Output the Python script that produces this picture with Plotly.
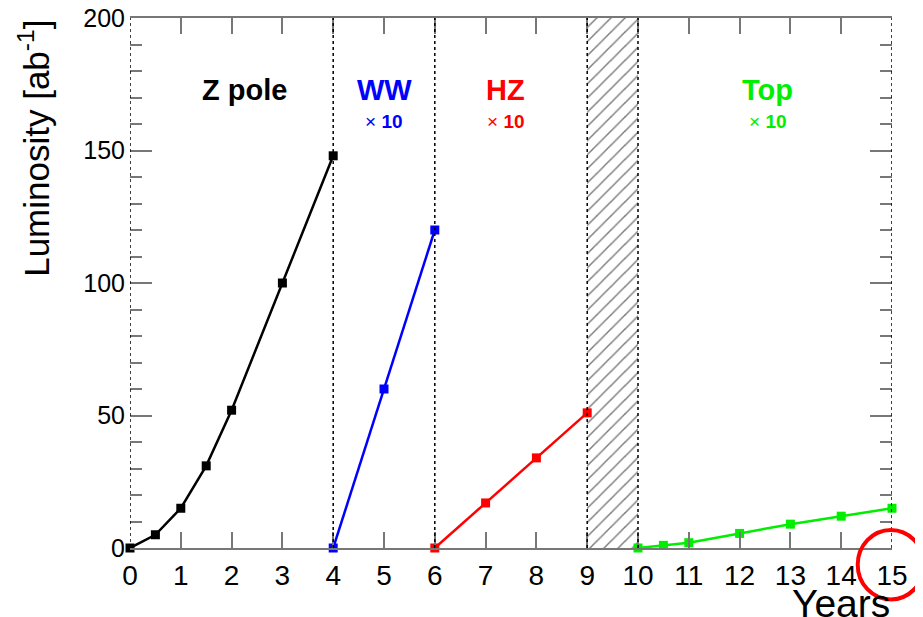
import plotly.graph_objects as go

# Data
z_x = [0, 0.5, 1, 1.5, 2, 3, 4]
z_y = [0, 5, 15, 31, 52, 100, 148]
ww_x = [4, 5, 6]
ww_y = [0, 60, 120]
hz_x = [6, 7, 8, 9]
hz_y = [0, 17, 34, 51]
top_x = [10, 10.5, 11, 12, 13, 14, 15]
top_y = [0, 1, 2, 5.5, 9, 12, 15]
boundaries = [0, 4, 6, 9, 10, 15]
shutdown = [9, 10]
x_ticks = list(range(0, 16))
y_ticks = [0, 50, 100, 150, 200]

labels = [
    ("Z pole", 2.25, "black", None),
    ("WW", 5.0, "#0000ff", "× <b>10</b>"),
    ("HZ", 7.4, "#ff0000", "× <b>10</b>"),
    ("Top", 12.55, "#00ee00", "× <b>10</b>"),
]

fig = go.Figure()

# hatched shutdown region
fig.add_trace(go.Bar(
    x=[(shutdown[0] + shutdown[1]) / 2], y=[200], width=[shutdown[1] - shutdown[0]],
    marker=dict(color="white", line=dict(width=0),
                pattern=dict(shape="/", fgcolor="black", bgcolor="white", size=10, solidity=0.15)),
    showlegend=False, hoverinfo="skip"))

series = [(z_x, z_y, "black"), (ww_x, ww_y, "#0000ff"), (hz_x, hz_y, "#ff0000"), (top_x, top_y, "#00ee00")]
for xs, ys, c in series:
    fig.add_trace(go.Scatter(x=xs, y=ys, mode="lines+markers",
                             line=dict(color=c, width=2.5),
                             marker=dict(symbol="square", size=9, color=c),
                             cliponaxis=False, showlegend=False))

for b in boundaries:
    fig.add_shape(type="line", x0=b, x1=b, y0=0, y1=200, xref="x", yref="y",
                  line=dict(color="black", width=1.5, dash="dot"), layer="above")

for text, xc, col, sub in labels:
    fig.add_annotation(x=xc, y=173, xref="x", yref="y", text=f"<b>{text}</b>",
                       showarrow=False, font=dict(family="Liberation Sans", size=29, color=col))
    if sub:
        fig.add_annotation(x=xc, y=161, xref="x", yref="y", text=sub,
                           showarrow=False, font=dict(family="Liberation Sans", size=19, color=col))

# axis titles
fig.add_annotation(x=-0.126, y=0.755, xref="paper", yref="paper", xanchor="center", yanchor="middle",
                   text="Luminosity [ab<sup>-1</sup>]", textangle=-90, showarrow=False,
                   font=dict(family="Liberation Sans", size=35, color="black"))
fig.add_annotation(x=1.0, y=-0.104, xref="paper", yref="paper", xanchor="right", yanchor="middle",
                   text="Years", showarrow=False,
                   font=dict(family="Liberation Sans", size=39, color="black"))

# red circle
fig.add_shape(type="circle", xref="paper", yref="paper",
              x0=0.955, x1=1.042, y0=-0.097, y1=0.034,
              line=dict(color="#ff0000", width=4))

fig.update_layout(
    width=915, height=609,
    margin=dict(l=122, r=31, t=10, b=69, autoexpand=False),
    plot_bgcolor="white", paper_bgcolor="white",
    bargap=0,
    xaxis=dict(range=[0, 15], tickvals=x_ticks, ticks="inside", ticklen=16, tickwidth=1.5,
               tickcolor="#777777", showline=True, linecolor="#777777", linewidth=1.5,
               mirror="ticks", showgrid=False, zeroline=False, ticklabelstandoff=2, automargin=False,
               ticklabeloverflow="allow",
               tickfont=dict(family="Liberation Sans", size=28, color="black")),
    yaxis=dict(range=[0, 200], tickvals=y_ticks, ticks="inside", ticklen=22, tickwidth=1.5,
               tickcolor="#777777", showline=False, mirror="ticks", showgrid=False, zeroline=False,
               minor=dict(dtick=10, ticks="inside", ticklen=12, tickwidth=1.5, tickcolor="#777777"),
               ticklabelstandoff=4, automargin=False, ticklabeloverflow="allow",
               tickfont=dict(family="Liberation Sans", size=25, color="black")),
)

fig.write_html("out.html")
